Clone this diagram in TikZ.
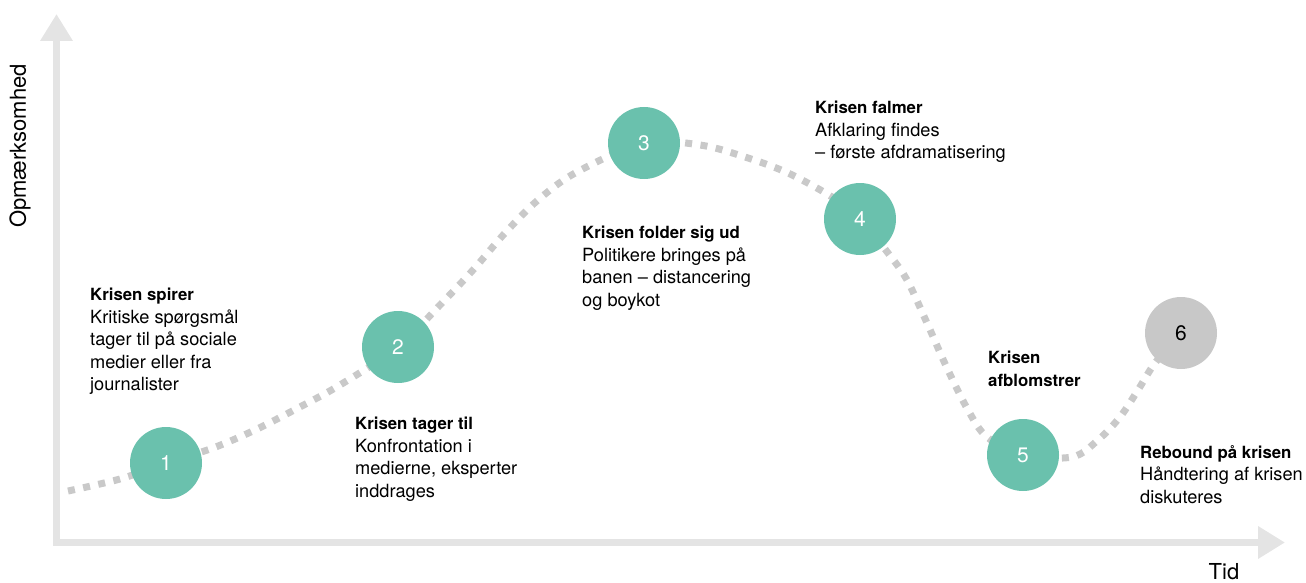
\documentclass[tikz,border=0pt]{standalone}
\usepackage{fontspec}
\setmainfont{TeX Gyre Heros}
\usetikzlibrary{arrows.meta}
\definecolor{axisgrey}{HTML}{E4E4E4}
\definecolor{pathgrey}{HTML}{C9C9C9}
\definecolor{phasegreen}{HTML}{6AC1AD}
\definecolor{reboundgrey}{HTML}{C8C8C8}
% headings are set a little smaller than the running text
\newcommand{\phasehead}[1]{{\fontsize{16.8}{22.5}\selectfont\bfseries #1}}
\begin{document}
\begin{tikzpicture}[x=1pt,y=-1pt,
  axis/.style={draw=axisgrey, line width=7.5pt, line join=miter,
    {Triangle[length=27pt,width=31pt]}-{Triangle[length=27pt,width=31pt]}},
  curve/.style={draw=pathgrey, line width=7pt, dash pattern=on 7pt off 8.5pt},
  phase/.style={circle, fill=phasegreen, minimum size=72pt, inner sep=0pt,
    text=white, font=\fontsize{21}{21}\selectfont},
  rebound/.style={phase, fill=reboundgrey, text=black},
  label/.style={anchor=north west, align=left, inner sep=0pt,
    font=\fontsize{18.2}{22.5}\selectfont},
  axislabel/.style={inner sep=0pt, font=\fontsize{22}{22}\selectfont}
]
\useasboundingbox (0,0) rectangle (1306,583);

% axes
\coordinate (ytip) at (56.5,14);
\coordinate (xtip) at (1285,542.5);
\draw[axis] (ytip) |- (xtip);
\node[axislabel, rotate=90] (ylab) at (20,146) {Opmærksomhed};
\node[axislabel] (xlab) at (1224,572) {Tid};

% phase positions
\coordinate (p1) at (166,463);
\coordinate (p2) at (398,347);
\coordinate (p3) at (644,143);
\coordinate (p4) at (860,219);
\coordinate (p5) at (1023,455);
\coordinate (p6) at (1181,333);

% attention curve running behind the phases
\draw[curve] plot[smooth, tension=0.55] coordinates {
  (68,491) (120,479) (p1) (213,448) (255,430) (298,408) (340,385) (p2)
  (440,305) (473,270) (505,233) (538,200) (577,172) (p3) (700,145)
  (745,157) (788,173) (832,197) (p4) (888,253) (907,280) (927,323)
  (947,368) (968,410) (987,437) (p5) (1072,457) (1098,440) (1120,417)
  (1138,390) (1155,363) (p6)};

% phases
\node[phase] (c1) at (p1) {1};
\node[phase] (c2) at (p2) {2};
\node[phase] (c3) at (p3) {3};
\node[phase] (c4) at (p4) {4};
\node[phase] (c5) at (p5) {5};
\node[rebound] (c6) at (p6) {6};

% descriptions
\node[label] (t1) at (90,288) {\phasehead{Krisen spirer}\\Kritiske spørgsmål\\tager til på sociale\\medier eller fra\\journalister};
\node[label] (t2) at (355,417) {\phasehead{Krisen tager til}\\Konfrontation i\\medierne, eksperter\\inddrages};
\node[label] (t3) at (582,226) {\phasehead{Krisen folder sig ud}\\Politikere bringes på\\banen – distancering\\og boykot};
\node[label] (t4) at (815,101) {\phasehead{Krisen falmer}\\Afklaring findes\\– første afdramatisering};
\node[label] (t5) at (988,351) {\phasehead{Krisen}\\\phasehead{afblomstrer}};
\node[label] (t6) at (1140,445) {\phasehead{Rebound på krisen}\\Håndtering af krisen\\diskuteres};
\end{tikzpicture}
\end{document}
